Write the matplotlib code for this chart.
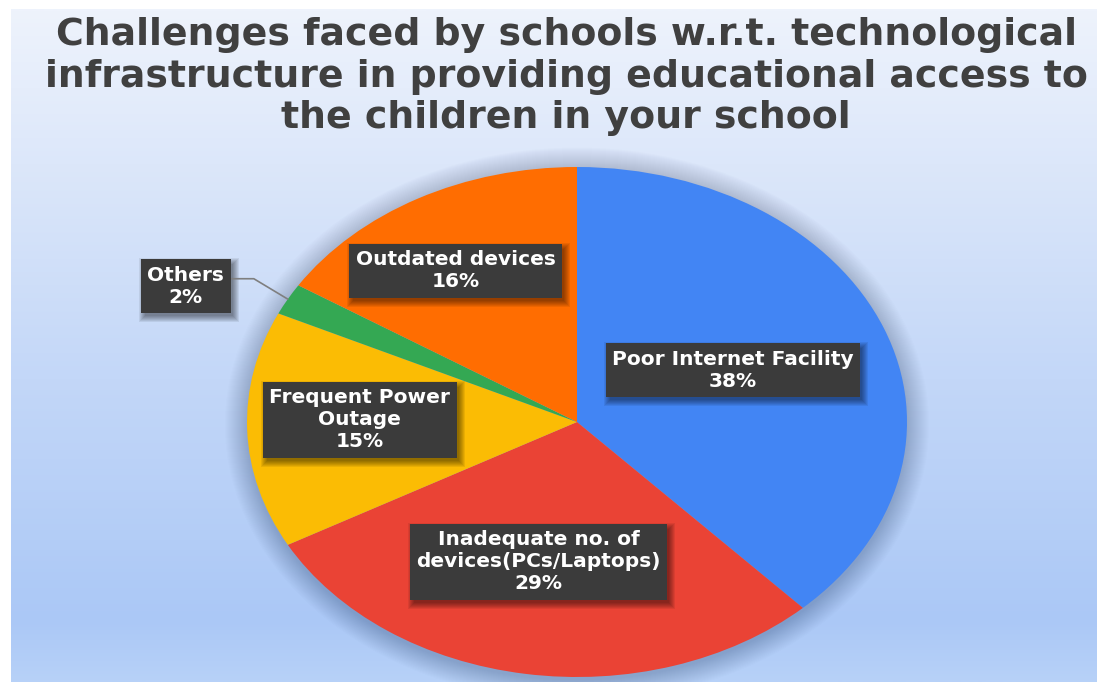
import numpy as np
import matplotlib
matplotlib.use("Agg")
import matplotlib.pyplot as plt
import matplotlib.transforms as mtransforms
from matplotlib.patches import Ellipse, Rectangle
from matplotlib.colors import LinearSegmentedColormap

# ---- data -------------------------------------------------------------
title = ("Challenges faced by schools w.r.t. technological\n"
         "infrastructure in providing educational access to\n"
         "the children in your school")
categories = ["Poor Internet Facility",
              "Inadequate no. of\ndevices(PCs/Laptops)",
              "Frequent Power\nOutage",
              "Others",
              "Outdated devices"]
shares = [38, 29, 15, 2, 16]
colors = ["#4285F4", "#EA4335", "#FBBC04", "#34A853", "#FF6D01"]

# label placement: distance from centre (fraction of radius) and angular nudge
label_radius = [0.515, 0.56, 0.658, 1.30, 0.697]
label_nudge = [1.7, -3.0, -2.5, 4.6, 3.0]

W, H = 1097, 682
fig = plt.figure(figsize=(W / 100, H / 100), dpi=100, facecolor="white")

# ---- gradient backdrop -----------------------------------------------
bg = fig.add_axes([11 / W, 0, 1 - 11 / W, 1 - 9 / H])
bg.set_axis_off()
stops = [(0.0, "#B7D1F8"), (0.09, "#ABC8F6"), (0.45, "#C3D7F8"),
         (0.77, "#DCE7FA"), (1.0, "#EEF3FC")]
cmap = LinearSegmentedColormap.from_list("backdrop", stops)
grad = np.linspace(0, 1, 512).reshape(-1, 1)
bg.imshow(grad, aspect="auto", cmap=cmap, origin="lower", extent=[0, 1, 0, 1])
bg.set_xlim(0, 1)
bg.set_ylim(0, 1)

# ---- pie ---------------------------------------------------------------
RX, RY = 330, 255  # pixel radii of the stretched pie
ax = fig.add_axes([247 / W, 5 / H, 2 * RX / W, 2 * RY / H])

# soft glow around the pie
for k in range(22, 0, -1):
    d = k * 1.0
    ax.add_patch(Ellipse((0, -0.01), 2 + 2 * d / RX, 2 + 2 * d / RY,
                         facecolor="#2a3550", alpha=0.012, lw=0,
                         clip_on=False, zorder=0.5))

wedges, _ = ax.pie(shares, colors=colors, startangle=90, counterclock=False,
                   radius=1, wedgeprops=dict(linewidth=0))
for w in wedges:
    w.set_clip_on(False)
ax.set_aspect("auto")
ax.set_xlim(-1, 1)
ax.set_ylim(-1, 1)
ax.set_axis_off()

total = sum(shares)
label_kw = dict(ha="center", va="center", color="white", fontsize=14.5,
                fontweight="bold", family="DejaVu Sans", linespacing=1.2,
                zorder=4)
texts = []
for w, cat, val, r, nudge in zip(wedges, categories, shares,
                                 label_radius, label_nudge):
    mid = np.deg2rad((w.theta1 + w.theta2) / 2 + nudge)
    x, y = r * np.cos(mid), r * np.sin(mid)
    txt = f"{cat}\n{round(100 * val / total)}%"
    bbox = dict(boxstyle="square,pad=0.32", fc="#3b3b3b", ec="none")
    if cat == "Others":
        edge = np.deg2rad((w.theta1 + w.theta2) / 2)
        t = ax.annotate(txt, xy=(np.cos(edge), np.sin(edge)), xytext=(x, y),
                        bbox=bbox,
                        arrowprops=dict(arrowstyle="-", color="#7f7f7f",
                                        lw=1.2, shrinkA=0, shrinkB=0,
                                        relpos=(1.0, 0.68),
                                        connectionstyle="angle,angleA=0,angleB=-31,rad=0"),
                        **label_kw)
    else:
        t = ax.text(x, y, txt, bbox=bbox, **label_kw)
    texts.append(t)

# ---- title ---------------------------------------------------------------
fig.text(566 / W, 1 - 17 / H, title, ha="center", va="top", fontsize=27.3,
         fontweight="bold", color="#404040", family="DejaVu Sans",
         linespacing=1.2)

# soft drop shadows under the label boxes
fig.canvas.draw()
renderer = fig.canvas.get_renderer()
ident = mtransforms.IdentityTransform()
for t in texts:
    bb = t.get_bbox_patch().get_window_extent(renderer)
    for s in range(5, -2, -1):
        ax.add_patch(Rectangle((bb.x0 + 3 - s, bb.y0 - 4 - s),
                               bb.width + 2 * s, bb.height + 2 * s,
                               transform=ident, facecolor="black",
                               alpha=0.07, lw=0, clip_on=False, zorder=3.5))

fig.savefig("out.png", dpi=100, facecolor="white")
